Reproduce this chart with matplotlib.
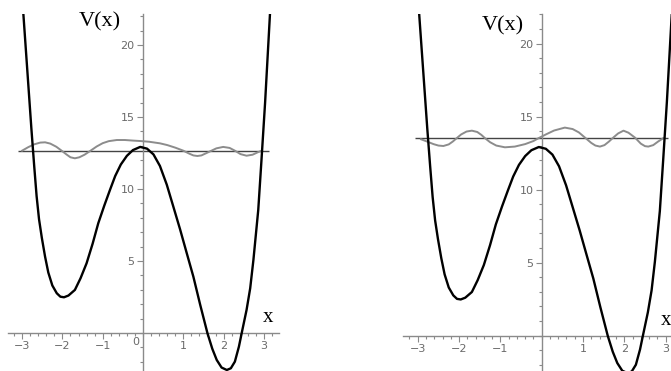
import matplotlib
matplotlib.use("Agg")
import matplotlib.pyplot as plt
from matplotlib.ticker import MultipleLocator

# potential V(x) (same curve in both panels)
pot_x = [-2.97, -2.87, -2.77, -2.70, -2.64, -2.58, -2.51, -2.43, -2.35, -2.25, -2.14, -2.05,
         -1.96, -1.85, -1.69, -1.55, -1.40, -1.25, -1.11, -0.96, -0.82, -0.69, -0.55, -0.40,
         -0.25, -0.07, 0.10, 0.26, 0.42, 0.59, 0.75, 0.92, 1.08, 1.25, 1.42, 1.60, 1.72, 1.83,
         1.95, 2.08, 2.18, 2.28, 2.38, 2.45, 2.57, 2.66, 2.74, 2.86, 2.94, 3.03, 3.15]
pot_v = [22.2, 18.2, 14.2, 11.6, 9.5, 7.9, 6.6, 5.3, 4.2, 3.3, 2.76, 2.52,
         2.48, 2.6, 2.99, 3.8, 4.84, 6.2, 7.62, 8.85, 9.93, 10.9, 11.7, 12.3,
         12.7, 12.92, 12.8, 12.4, 11.6, 10.3, 8.8, 7.2, 5.6, 3.91, 1.95, -0.02, -1.10, -1.875,
         -2.40, -2.57, -2.45, -1.99, -0.95, 0.0, 1.6, 3.1, 5.07, 8.54, 12.0, 16.0, 22.1]

# left panel: energy level and wave curve
E_left = 12.64
wave_left_x = [-3.0, -2.85, -2.7, -2.55, -2.43, -2.3, -2.15, -2.02, -1.9, -1.8, -1.69, -1.58,
               -1.45, -1.30, -1.15, -1.0, -0.85, -0.65, -0.45, -0.25, -0.07, 0.15, 0.42, 0.6,
               0.8, 1.0, 1.15, 1.25, 1.35, 1.45, 1.58, 1.70, 1.82, 1.99, 2.15, 2.28, 2.42,
               2.57, 2.72, 2.85, 2.95]
wave_left_y = [12.66, 12.9, 13.1, 13.22, 13.24, 13.15, 12.93, 12.66, 12.4, 12.2, 12.13, 12.2,
               12.38, 12.66, 12.95, 13.18, 13.32, 13.40, 13.40, 13.36, 13.33, 13.28, 13.17, 13.05,
               12.87, 12.66, 12.45, 12.33, 12.29, 12.33, 12.5, 12.66, 12.82, 12.92, 12.85, 12.66, 12.42,
               12.31, 12.38, 12.55, 12.66]

# right panel
E_right = 13.55
wave_right_x = [-2.92, -2.78, -2.62, -2.5, -2.38, -2.25, -2.15, -2.06, -1.95, -1.82, -1.69, -1.56,
                -1.46, -1.37, -1.25, -1.1, -0.89, -0.65, -0.4, -0.2, -0.08, 0.1, 0.3, 0.56,
                0.75, 0.9, 1.05, 1.2, 1.3, 1.41, 1.52, 1.63, 1.73, 1.85, 1.98, 2.1, 2.26,
                2.4, 2.5, 2.58, 2.7, 2.82, 2.94]
wave_right_y = [13.45, 13.3, 13.12, 13.02, 12.99, 13.1, 13.3, 13.52, 13.78, 13.98, 14.04, 13.95,
                13.75, 13.52, 13.25, 13.02, 12.90, 12.95, 13.12, 13.33, 13.52, 13.78, 14.05, 14.25,
                14.15, 13.92, 13.56, 13.2, 13.02, 12.95, 13.05, 13.3, 13.56, 13.85, 14.04, 13.9, 13.56,
                13.15, 12.98, 12.95, 13.05, 13.3, 13.52]

xticks = [-3, -2, -1, 1, 2, 3]
yticks = [5, 10, 15, 20]

axis_grey = "#8a8a8a"
tick_font = ["Liberation Sans Narrow", "DejaVu Sans"]

fig = plt.figure(figsize=(6.71, 3.71), dpi=100)


def panel(rect, xlim, ylim, E, line_span, wx, wy, vx_pos, x_pos, zero_label):
    ax = fig.add_axes(rect)
    ax.set_xlim(*xlim)
    ax.set_ylim(*ylim)
    ax.patch.set_alpha(0)
    for s in ["top", "right"]:
        ax.spines[s].set_visible(False)
    ax.spines["left"].set_position(("data", 0))
    ax.spines["bottom"].set_position(("data", 0))
    for s in ["left", "bottom"]:
        ax.spines[s].set_color(axis_grey)
        ax.spines[s].set_linewidth(1.0)

    ax.set_xticks(xticks)
    ax.set_yticks(yticks)
    ax.xaxis.set_minor_locator(MultipleLocator(0.2))
    ax.yaxis.set_minor_locator(MultipleLocator(1))
    ax.tick_params(axis="both", which="major", direction="out", length=4, width=0.8,
                   color=axis_grey, labelcolor="#6a6a6a", labelsize=8, pad=2)
    ax.tick_params(axis="both", which="minor", direction="out", length=2, width=0.8,
                   color=axis_grey)
    for lab in ax.get_xticklabels() + ax.get_yticklabels():
        lab.set_family(tick_font)
    if zero_label:
        ax.text(-0.1, -0.3, "0", ha="right", va="top", color="#6a6a6a", fontsize=8,
                family=tick_font)

    ax.hlines(E, line_span[0], line_span[1], color="#444444", lw=1.0, zorder=2)
    ax.plot(wx, wy, color="#8c8c8c", lw=1.4, zorder=3)
    ax.plot(pot_x, pot_v, color="black", lw=1.7, zorder=4, clip_on=True)

    ax.text(vx_pos[0], vx_pos[1], "V(x)", family="Liberation Serif", fontsize=16,
            ha="center", va="center")
    ax.text(x_pos[0], x_pos[1], "x", family="Liberation Serif", fontsize=15,
            ha="center", va="center")
    return ax


# left panel: x-axis from px 8 to 279, y-axis top at px 14
panel([8 / 671, 0, 271 / 671, 357 / 371], (-3.35, 3.375), (-2.64, 22.15), E_left,
      (-3.10, 3.13), wave_left_x, wave_left_y, (-1.08, 21.6), (3.10, 1.05), True)

# right panel
panel([403.3 / 671, 0, 267.7 / 671, 357 / 371], (-3.35, 3.13), (-2.42, 22.03), E_right,
      (-3.07, 3.06), wave_right_x, wave_right_y, (-0.94, 21.2), (3.0, 1.07), False)

fig.savefig("out.png", dpi=100)
